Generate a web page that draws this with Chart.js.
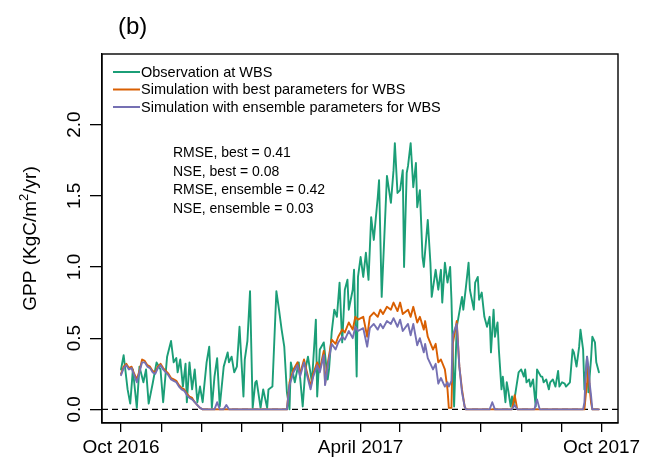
<!DOCTYPE html>
<html>
<head>
<meta charset="utf-8">
<script src="https://cdn.jsdelivr.net/npm/chart.js@4.4.1/dist/chart.umd.min.js"></script>
<style>
  html, body { margin: 0; padding: 0; background: #ffffff; }
  #c { display: block; }
</style>
</head>
<body>
<canvas id="c" width="658" height="470"></canvas>
<script>
// Days counted from 1 Oct 2016
const monthStarts = [0, 31, 61, 92, 123, 151, 182, 212, 243, 273, 304, 335, 365];
const monthLabels = ['Oct 2016', '', '', '', '', '', 'April 2017', '', '', '', '', '', 'Oct 2017'];
const yTicks = [0, 0.5, 1.0, 1.5, 2.0];
const yTickLabels = ['0.0', '0.5', '1.0', '1.5', '2.0'];

// Observed GPP at WBS (KgC/m2/yr)
const obsDays = [0,2,5,7,9,12,14,17,19,21,24,27,30,32,35,38,40,42,43,45,47,49,50,52,54,56,58,60,62,65,67,69,71,73,75,78,81,82,84,86,88,90,93,94,96,98,100,102,103,106,108,111,112,115,118,120,122,124,126,128,129,132,135,138,140,142,145,148,149,151,154,157,158,160,162,164,166,168,170,172,173,176,177,179,180,182,184,186,188,190,192,195,196,198,200,202,205,207,208,210,212,214,215,217,218,220,222,224,225,227,229,230,233,235,236,239,241,243,244,246,248,250,251,253,255,256,259,260,262,264,265,268,269,271,272,274,276,278,280,281,283,284,286,287,289,290,292,293,294,296,297,298,300,302,304,306,307,308,310,311,313,315,316,319,320,321,323,325,326,328,330,332,333,335,337,338,341,343,344,346,348,349,351,352,354,355,357,358,360,361,363];
const obsGpp = [0.28,0.38,0.14,0.04,0.28,0.01,0.30,0.19,0.28,0.04,0.18,0.33,0.28,0.05,0.37,0.48,0.33,0.36,0.26,0.35,0.16,0.32,0.05,0.33,0.14,0.28,0.05,0.16,0.05,0.33,0.44,0.01,0.23,0.36,0.02,0.30,0.40,0.33,0.37,0.26,0.30,0.58,0.09,0.35,0.48,0.83,0.01,0.19,0.20,0.01,0.14,0.01,0.14,0.16,0.83,0.70,0.56,0.44,0.12,0.00,0.33,0.19,0.33,0.02,0.28,0.37,0.19,0.63,0.09,0.42,0.47,0.21,0.28,0.54,0.70,0.65,0.89,0.47,0.84,0.91,0.70,0.84,0.98,0.23,0.93,1.07,0.93,1.10,0.91,1.35,1.19,1.49,1.61,0.79,1.21,1.64,1.45,1.68,1.87,1.52,1.54,1.68,1.00,1.66,1.71,1.87,1.56,1.73,1.42,1.54,1.07,1.00,1.33,1.03,0.79,0.98,0.84,0.98,0.75,1.03,0.89,1.00,0.77,0.02,0.58,0.63,0.79,0.70,0.86,1.03,0.84,0.70,0.89,0.93,0.77,0.82,0.65,0.58,0.65,0.40,0.70,0.51,0.61,0.42,0.14,0.23,0.05,0.19,0.14,0.02,0.09,0.02,0.14,0.26,0.28,0.23,0.28,0.19,0.21,0.16,0.21,0.02,0.28,0.23,0.23,0.19,0.21,0.14,0.19,0.21,0.16,0.27,0.16,0.19,0.18,0.16,0.19,0.42,0.40,0.30,0.44,0.56,0.42,0.14,0.37,0.12,0.35,0.51,0.47,0.33,0.26];

// Simulated GPP (best and ensemble parameter sets)
const simDays = [0,2,4,6,8,10,12,14,16,18,20,22,24,26,28,30,32,34,36,38,40,42,44,46,48,50,52,54,56,58,60,62,
  64,71,73,75,78,80,82,
  126,128,131,134,136,139,141,144,146,149,151,154,155,157,160,163,165,168,170,173,176,178,180,184,187,189,192,195,197,199,202,205,207,210,212,214,218,220,222,225,227,230,231,233,237,239,241,243,246,248,249,251,252,255,257,259,261,262,
  264,280,282,284,297,299,301,314,316,318,351,352,353,354,355,356,357,358,363];
const bestGpp = [0.25,0.30,0.32,0.29,0.30,0.25,0.21,0.27,0.35,0.34,0.31,0.30,0.27,0.26,0.30,0.32,0.29,0.27,0.25,0.22,0.21,0.20,0.17,0.15,0.14,0.11,0.09,0.08,0.05,0.03,0.01,0.00,
  0,0,0,0,0,0,0,
  0.00,0.19,0.28,0.33,0.25,0.35,0.27,0.16,0.25,0.33,0.28,0.41,0.18,0.32,0.49,0.46,0.51,0.56,0.54,0.61,0.56,0.65,0.63,0.65,0.51,0.65,0.68,0.65,0.70,0.67,0.72,0.70,0.75,0.69,0.75,0.67,0.70,0.65,0.72,0.61,0.65,0.56,0.62,0.51,0.42,0.46,0.33,0.35,0.28,0.14,0.01,0.01,0.46,0.62,0.30,0.14,0.02,0.00,
  0,0,0,0,0,0.10,0,0,0,0,0,0,0.10,0.18,0.30,0.15,0.05,0,0];
const ensGpp = [0.24,0.29,0.31,0.28,0.29,0.24,0.19,0.26,0.33,0.33,0.30,0.29,0.26,0.25,0.29,0.31,0.28,0.26,0.24,0.21,0.20,0.19,0.16,0.14,0.13,0.10,0.08,0.07,0.05,0.03,0.01,0.00,
  0,0,0.05,0,0,0.03,0,
  0.00,0.17,0.26,0.31,0.23,0.33,0.25,0.14,0.23,0.31,0.26,0.38,0.17,0.30,0.46,0.42,0.47,0.51,0.49,0.55,0.50,0.58,0.55,0.57,0.44,0.57,0.60,0.56,0.60,0.57,0.62,0.60,0.64,0.58,0.63,0.55,0.60,0.52,0.60,0.45,0.50,0.40,0.46,0.36,0.28,0.32,0.18,0.22,0.16,0.19,0.16,0.20,0.52,0.60,0.30,0.12,0.02,0.00,
  0,0,0.05,0,0,0.03,0,0,0.07,0,0,0.05,0.25,0.37,0.30,0.18,0.10,0,0];

const seriesNames = ['Observation at WBS', 'Simulation with best parameters for WBS', 'Simulation with ensemble parameters for WBS'];
const seriesColors = ['#1B9E77', '#D95F02', '#7570B3'];
const statLines = ['RMSE, best = 0.41', 'NSE, best = 0.08', 'RMSE, ensemble = 0.42', 'NSE, ensemble = 0.03'];
const yTitle = ['GPP (KgC/m', '2', '/yr)'];
const panelTag = '(b)';

const FONT = '"Liberation Sans", Arial, Helvetica, sans-serif';
const pts = (xs, ys) => xs.map((d, i) => ({ x: d, y: ys[i] }));

const decorations = {
  id: 'decorations',
  beforeDatasetsDraw(chart) {
    const { ctx, chartArea: a, scales: { y } } = chart;
    const y0 = y.getPixelForValue(0);
    ctx.save();
    ctx.strokeStyle = '#000';
    ctx.lineWidth = 1.3;
    ctx.setLineDash([6, 4]);
    ctx.beginPath();
    ctx.moveTo(a.left, y0);
    ctx.lineTo(a.right, y0);
    ctx.stroke();
    ctx.restore();
  },
  afterDatasetsDraw(chart) {
    const { ctx, chartArea: a, scales: { y } } = chart;
    ctx.save();
    // plot frame
    ctx.strokeStyle = '#000';
    ctx.lineWidth = 1.4;
    ctx.strokeRect(a.left, a.top, a.right - a.left, a.bottom - a.top);

    // legend
    ctx.font = '14.5px ' + FONT;
    ctx.textBaseline = 'middle';
    ctx.textAlign = 'left';
    seriesNames.forEach((name, i) => {
      const yy = a.top + 18 + i * 17.5;
      ctx.strokeStyle = seriesColors[i];
      ctx.lineWidth = 2;
      ctx.beginPath();
      ctx.moveTo(a.left + 11, yy);
      ctx.lineTo(a.left + 38, yy);
      ctx.stroke();
      ctx.fillStyle = '#000';
      ctx.fillText(name, a.left + 39, yy + 0.5);
    });

    // goodness-of-fit statistics
    ctx.font = '14px ' + FONT;
    statLines.forEach((t, i) => ctx.fillText(t, 173, 153 + i * 18.7));

    // y tick labels, rotated parallel to the axis
    ctx.font = '19px ' + FONT;
    ctx.textAlign = 'center';
    yTicks.forEach((v, i) => {
      ctx.save();
      ctx.translate(75, y.getPixelForValue(v));
      ctx.rotate(-Math.PI / 2);
      ctx.fillText(yTickLabels[i], 0, 0);
      ctx.restore();
    });

    // y axis title with superscript
    ctx.save();
    ctx.translate(29, (a.top + a.bottom) / 2);
    ctx.rotate(-Math.PI / 2);
    const big = '19px ' + FONT, small = '13px ' + FONT;
    ctx.font = big; const w1 = ctx.measureText(yTitle[0]).width, w3 = ctx.measureText(yTitle[2]).width;
    ctx.font = small; const w2 = ctx.measureText(yTitle[1]).width;
    let x = -(w1 + w2 + w3) / 2;
    ctx.textAlign = 'left';
    ctx.textBaseline = 'alphabetic';
    ctx.font = big; ctx.fillText(yTitle[0], x, 7); x += w1;
    ctx.font = small; ctx.fillText(yTitle[1], x, -1); x += w2;
    ctx.font = big; ctx.fillText(yTitle[2], x, 7);
    ctx.restore();

    // panel tag
    ctx.font = '24px ' + FONT;
    ctx.textAlign = 'left';
    ctx.textBaseline = 'alphabetic';
    ctx.fillText(panelTag, 118, 34);
    ctx.restore();
  }
};

new Chart(document.getElementById('c'), {
  type: 'line',
  data: {
    datasets: [
      { label: seriesNames[2], data: pts(simDays, ensGpp), borderColor: seriesColors[2], order: 1 },
      { label: seriesNames[1], data: pts(simDays, bestGpp), borderColor: seriesColors[1], order: 2 },
      { label: seriesNames[0], data: pts(obsDays, obsGpp), borderColor: seriesColors[0], order: 3 }
    ]
  },
  options: {
    responsive: false,
    animation: false,
    devicePixelRatio: 1,
    layout: { padding: { left: 0, right: 40, top: 54, bottom: 0 } },
    elements: {
      point: { radius: 0 },
      line: { borderWidth: 1.9, tension: 0, fill: false, borderJoinStyle: 'round', borderCapStyle: 'round' }
    },
    plugins: { legend: { display: false }, tooltip: { enabled: false }, title: { display: false } },
    scales: {
      x: {
        type: 'linear',
        min: -14.45,
        max: 377.5,
        afterBuildTicks: s => { s.ticks = monthStarts.map(v => ({ value: v })); },
        afterFit: s => { s.height = 47; },
        ticks: {
          autoSkip: false,
          maxRotation: 0,
          minRotation: 0,
          padding: 4,
          color: '#000',
          font: { family: FONT, size: 19 },
          callback: v => { const k = monthStarts.indexOf(v); return k >= 0 ? monthLabels[k] : ''; }
        },
        grid: { display: true, drawOnChartArea: false, drawTicks: true, tickLength: 9, color: '#000', lineWidth: 1.3 },
        border: { display: true, color: '#000', width: 1.3 }
      },
      y: {
        type: 'linear',
        min: -0.096,
        max: 2.496,
        afterBuildTicks: s => { s.ticks = yTicks.map(v => ({ value: v })); },
        afterFit: s => { s.width = 102; },
        ticks: { display: false },
        grid: { display: true, drawOnChartArea: false, drawTicks: true, tickLength: 12, color: '#000', lineWidth: 1.3 },
        border: { display: true, color: '#000', width: 1.3 }
      }
    }
  },
  plugins: [decorations]
});
</script>
</body>
</html>
